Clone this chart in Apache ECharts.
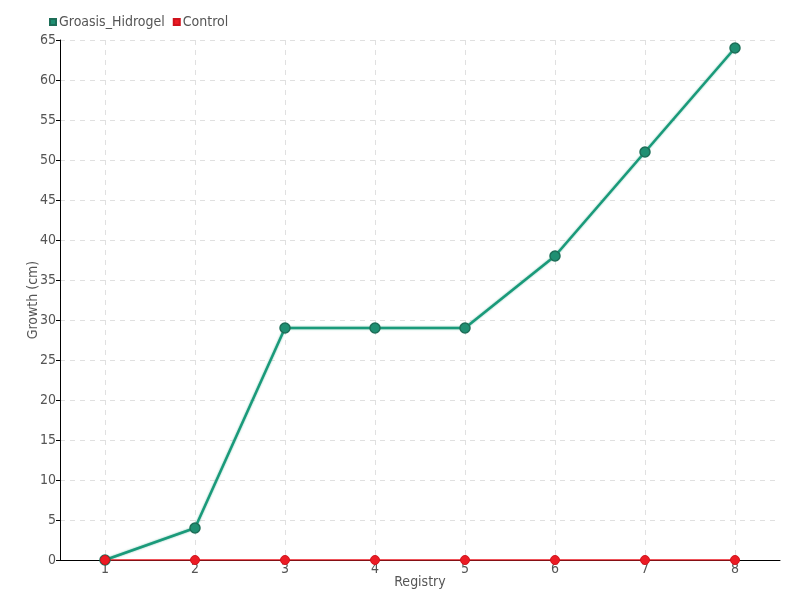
<!DOCTYPE html>
<html><head><meta charset="utf-8">
<script src="https://cdn.jsdelivr.net/npm/echarts@6/dist/echarts.min.js"></script>
<style>html,body{margin:0;padding:0;background:#fff}#c{width:800px;height:600px}</style>
</head><body><div id="c"></div>
<script>
const categories = ['1','2','3','4','5','6','7','8'];
const groasisHidrogel = [0,4,29,29,29,38,51,64];
const control = [0,0,0,0,0,0,0,0];
const yTicks = {min:0, max:65, interval:5};
const FONT = '"DejaVu Sans Condensed","Liberation Sans Narrow",sans-serif';
const chart = echarts.init(document.getElementById('c'));
chart.setOption({
  animation:false,
  textStyle:{fontFamily:FONT},
  legend:{left:44, top:10, itemWidth:6, itemHeight:6, itemGap:8, icon:'rect',
    textStyle:{fontFamily:FONT, fontSize:14, color:'#555', padding:[0,0,0,-2]},
    data:['Groasis_Hidrogel','Control']},
  grid:{left:60, right:20, top:40, bottom:40},
  xAxis:{type:'category', data:categories, boundaryGap:true,
    name:'Registry', nameLocation:'middle', nameGap:15, nameMoveOverlap:false,
    nameTextStyle:{fontFamily:FONT, fontSize:14, color:'#555'},
    axisLine:{lineStyle:{color:'#000', width:1}},
    axisTick:{show:false},
    axisLabel:{fontFamily:FONT, fontSize:14, color:'#555', margin:2},
    splitLine:{show:true, alignWithLabel:true, lineStyle:{type:[5,5], color:'#e0e0e0'}}},
  yAxis:{type:'value', min:yTicks.min, max:yTicks.max, interval:yTicks.interval,
    name:'Growth (cm)', nameLocation:'middle', nameGap:20, nameMoveOverlap:false,
    nameTextStyle:{fontFamily:FONT, fontSize:14, color:'#555'},
    axisLine:{show:true, lineStyle:{color:'#000', width:1}},
    axisTick:{show:true, length:4, lineStyle:{color:'#000'}},
    axisLabel:{fontFamily:FONT, fontSize:14, color:'#555', margin:4},
    splitLine:{show:true, lineStyle:{type:[5,5], color:'#e0e0e0'}}},
  series:[
    {name:'Groasis_Hidrogel', type:'line', data:groasisHidrogel,
      color:'#1a9a7a', symbol:'circle', symbolSize:10,
      lineStyle:{color:'#1a9a7a', width:2.5, shadowColor:'rgba(26,154,122,0.6)', shadowBlur:2},
      itemStyle:{color:'#1f8f72', borderColor:'#1d6e58', borderWidth:1.5}},
    {name:'Control', type:'line', data:control,
      color:'#ec1b24', symbol:'circle', symbolSize:9,
      lineStyle:{color:'#ec1b24', width:1.5},
      itemStyle:{color:'#ec1b24', borderColor:'#d0121c', borderWidth:1}}
  ]
});
</script></body></html>
